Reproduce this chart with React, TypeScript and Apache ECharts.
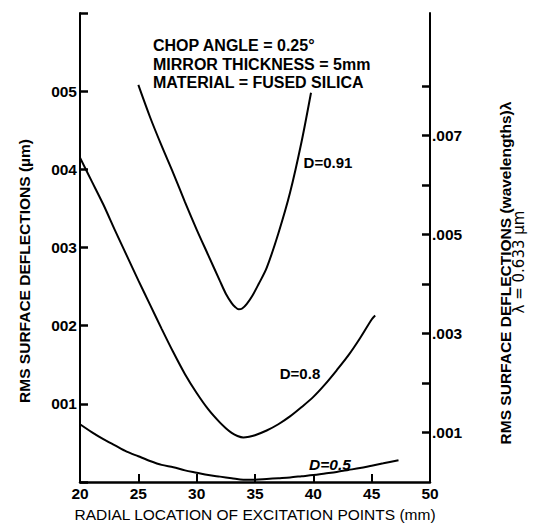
import React, { useEffect, useRef } from "react";
import * as echarts from "echarts";

// Data (x in mm, y in µm)
const xTicks = [20, 25, 30, 35, 40, 45, 50];
const yMaxLeft = 0.006;

const d91X = [25, 26, 27, 28, 29, 30, 31, 32, 32.5, 33, 33.3, 33.6, 33.9, 34.3, 34.8, 35.3, 36, 37, 38, 39, 39.8];
const d91Y = [0.00508, 0.00467, 0.0043, 0.00395, 0.00358, 0.00323, 0.0029, 0.00257, 0.00241, 0.00229, 0.00224, 0.00221, 0.00222, 0.00228, 0.00239, 0.00253, 0.00274, 0.00318, 0.0037, 0.00436, 0.00498];

const d08X = [20, 21, 22, 23, 24, 25, 26, 27, 28, 29, 30, 31, 32, 32.5, 33, 33.5, 34, 34.5, 35, 36, 37, 38, 39, 40, 41, 42, 43, 44, 45, 45.3];
const d08Y = [0.00415, 0.00385, 0.00355, 0.00322, 0.0029, 0.00258, 0.00227, 0.00196, 0.00166, 0.00138, 0.00114, 0.00093, 0.00076, 0.00069, 0.00063, 0.00059, 0.00057, 0.00058, 0.0006, 0.00066, 0.00074, 0.00084, 0.00096, 0.00109, 0.00125, 0.00143, 0.00162, 0.00184, 0.00208, 0.00213];

const d05X = [20, 21, 22, 23, 24, 25, 26, 27, 28, 29, 30, 31, 32, 33, 34, 35, 36, 37, 38, 39, 40, 41, 42, 43, 44, 45, 46, 47.3];
const d05Y = [0.00074, 0.00064, 0.00055, 0.00047, 0.00039, 0.00033, 0.00027, 0.00022, 0.00019, 0.00015, 0.00012, 0.00009, 0.00007, 0.00005, 0.00003, 0.00003, 0.00004, 0.00005, 0.00006, 0.000075, 0.00009, 0.00011, 0.00013, 0.000155, 0.00018, 0.00021, 0.00024, 0.00028];

const WAVELENGTH = 0.633;
const leftLabels = ["001", "002", "003", "004", "005"];
const rightLabels = [".001", ".003", ".005", ".007"];
const rightTickValues = [0.001, 0.002, 0.003, 0.004, 0.005, 0.006, 0.007, 0.008];

const curveNames = ["D=0.91", "D=0.8", "D=0.5"];
const noteLines = ["CHOP ANGLE = 0.25°", "MIRROR THICKNESS = 5mm", "MATERIAL = FUSED SILICA"];

const FONT = "'Liberation Sans', Arial, sans-serif";
const GRID = { left: 80, right: 103, top: 13, bottom: 40 };

const pairs = (xs: number[], ys: number[]) => xs.map((x, i) => [x, ys[i]]);

export default function App() {
  const ref = useRef<HTMLDivElement>(null);
  useEffect(() => {
    if (!ref.current) return;
    const chart = echarts.init(ref.current, undefined, { renderer: "svg" });
    const lineSeries = (name: string, data: number[][], extra: any = {}) => ({
      name,
      type: "line",
      data,
      showSymbol: false,
      smooth: 0.3,
      lineStyle: { color: "#000", width: 2 },
      silent: true,
      ...extra,
    });
    chart.setOption({
      animation: false,
      backgroundColor: "#fff",
      grid: GRID,
      xAxis: {
        type: "value",
        min: xTicks[0],
        max: xTicks[xTicks.length - 1],
        interval: 5,
        axisLine: { onZero: false, lineStyle: { color: "#000", width: 2.5 } },
        axisTick: { inside: true, length: 8, lineStyle: { color: "#000", width: 2 } },
        axisLabel: { color: "#000", fontFamily: FONT, fontWeight: "bold", fontSize: 15.5, margin: 3 },
        splitLine: { show: false },
        name: "RADIAL LOCATION OF EXCITATION POINTS (mm)",
        nameLocation: "middle",
        nameGap: 22,
        nameTextStyle: { color: "#000", fontFamily: FONT, fontSize: 15.5, fontWeight: "normal" },
      },
      yAxis: [
        {
          type: "value",
          min: 0,
          max: yMaxLeft,
          interval: 0.001,
          position: "left",
          axisLine: { show: true, onZero: false, lineStyle: { color: "#000", width: 2 } },
          axisTick: { show: true, inside: true, length: 8, lineStyle: { color: "#000", width: 2.5 } },
          axisLabel: {
            color: "#000",
            fontFamily: FONT,
            fontWeight: "bold",
            fontSize: 15.5,
            margin: 3,
            formatter: (v: number) => {
              const n = Math.round(v * 1000);
              return n >= 1 && n <= 5 ? leftLabels[n - 1] : "";
            },
          },
          splitLine: { show: false },
        },
        {
          type: "value",
          min: 0,
          max: yMaxLeft / WAVELENGTH,
          interval: 0.001,
          position: "right",
          axisLine: { show: true, onZero: false, lineStyle: { color: "#000", width: 2 } },
          axisTick: {
            show: true,
            inside: true,
            length: 8,
            customValues: rightTickValues,
            lineStyle: { color: "#000", width: 2.5 },
          },
          axisLabel: {
            color: "#000",
            fontFamily: FONT,
            fontWeight: "bold",
            fontSize: 15.5,
            margin: 2,
            formatter: (v: number) => {
              const n = Math.round(v * 1000);
              const idx = rightLabels.indexOf(".00" + n);
              return idx >= 0 ? rightLabels[idx] : "";
            },
          },
          splitLine: { show: false },
        },
      ],
      series: [
        lineSeries(curveNames[0], pairs(d91X, d91Y), {
          markLine: {
            silent: true,
            symbol: ["none", "none"],
            label: { show: false },
            lineStyle: { color: "#000", width: 2.5, type: "solid" },
            data: [{ yAxis: yMaxLeft }],
          },
        }),
        lineSeries(curveNames[1], pairs(d08X, d08Y)),
        lineSeries(curveNames[2], pairs(d05X, d05Y)),
      ],
      graphic: [
        ...noteLines.map((t, i) => ({
          type: "text",
          x: 153,
          y: [45, 64, 82][i],
          style: { text: t, fill: "#000", font: `bold 16px ${FONT}`, textVerticalAlign: "middle", textAlign: "left" },
        })),
        {
          type: "text", x: 328, y: 162,
          style: { text: curveNames[0], fill: "#000", font: `bold 15px ${FONT}`, textAlign: "center", textVerticalAlign: "middle" },
        },
        {
          type: "text", x: 300, y: 373,
          style: { text: curveNames[1], fill: "#000", font: `bold 15px ${FONT}`, textAlign: "center", textVerticalAlign: "middle" },
        },
        {
          type: "text", x: 330, y: 464,
          style: { text: curveNames[2], fill: "#000", font: `italic bold 15.5px ${FONT}`, textAlign: "center", textVerticalAlign: "middle" },
        },
        {
          type: "text", x: 24, y: 271, rotation: Math.PI / 2,
          style: { text: "RMS SURFACE DEFLECTIONS (µm)", fill: "#000", font: `bold 15.5px ${FONT}`, textAlign: "center", textVerticalAlign: "middle" },
        },
        {
          type: "text", x: 505, y: 273, rotation: Math.PI / 2,
          style: { text: "RMS SURFACE DEFLECTIONS (wavelengths)λ", fill: "#000", font: `bold 15.5px ${FONT}`, textAlign: "center", textVerticalAlign: "middle" },
        },
        {
          type: "text", x: 519, y: 262, rotation: Math.PI / 2,
          style: { text: "λ = 0.633 µm", fill: "#000", font: `15px 'DejaVu Sans', sans-serif`, textAlign: "center", textVerticalAlign: "middle" },
        },
      ],
    });
    return () => chart.dispose();
  }, []);
  return <div ref={ref} style={{ position: "absolute", left: 0, top: 0, width: 533, height: 527 }} />;
}
